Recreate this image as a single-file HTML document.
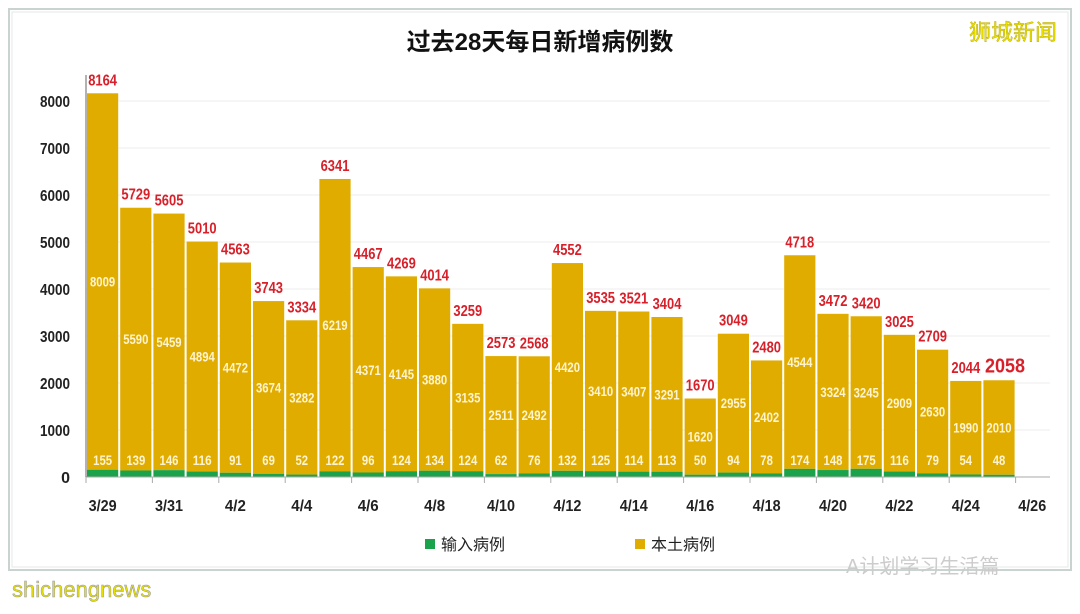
<!DOCTYPE html>
<html><head><meta charset="utf-8"><style>
body{margin:0;background:#fff;width:1080px;height:609px;overflow:hidden}
text{font-family:"Liberation Sans","Noto Sans CJK SC",sans-serif}
.cjk{font-family:"Liberation Sans","Noto Sans CJK SC",sans-serif}
</style></head><body>
<svg width="1080" height="609" xmlns="http://www.w3.org/2000/svg" id="s">
<rect x="0" y="0" width="1080" height="609" fill="#fff"/>
<rect x="9" y="9" width="1062" height="561" fill="#fff" stroke="#c9d3cf" stroke-width="2"/>
<rect x="12" y="12" width="1056" height="555" fill="none" stroke="#e4eae7" stroke-width="1"/>
<text x="540" y="50" text-anchor="middle" class="cjk" font-size="24" font-weight="bold" fill="#111">过去28天每日新增病例数</text>
<text x="1013" y="40" text-anchor="middle" class="cjk" font-size="22" fill="#e8e000" stroke="#b8a800" stroke-width="0.4">狮城新闻</text>
<g id="g"></g>
<rect x="425" y="539" width="10" height="10" fill="#1aa34a"/>
<text x="441" y="550" class="cjk" font-size="16" fill="#222">输入病例</text>
<rect x="635" y="539" width="10" height="10" fill="#e0ac00"/>
<text x="651" y="550" class="cjk" font-size="16" fill="#222">本土病例</text>
<text x="846" y="573" class="cjk" font-size="20" fill="#ccc">A计划学习生活篇</text>
<text x="12" y="597" font-size="22" fill="#e6e000" stroke="#999" stroke-width="0.5">shichengnews</text>
</svg>
<script>
var T=[8164,5729,5605,5010,4563,3743,3334,6341,4467,4269,4014,3259,2573,2568,4552,3535,3521,3404,1670,3049,2480,4718,3472,3420,3025,2709,2044,2058];
var L=[8009,5590,5459,4894,4472,3674,3282,6219,4371,4145,3880,3135,2511,2492,4420,3410,3407,3291,1620,2955,2402,4544,3324,3245,2909,2630,1990,2010];
var I=[155,139,146,116,91,69,52,122,96,124,134,124,62,76,132,125,114,113,50,94,78,174,148,175,116,79,54,48];
var dates=["3/29","3/31","4/2","4/4","4/6","4/8","4/10","4/12","4/14","4/16","4/18","4/20","4/22","4/24","4/26"];
var y0=477,k=0.047,x0=86,w=33.2,h='';
function tl(s,per){return ' textLength="'+(String(s).length*per)+'" lengthAdjust="spacingAndGlyphs" ';}
for(var v=1000;v<=8000;v+=1000){var y=y0-v*k;h+='<line x1="86" x2="1050" y1="'+y+'" y2="'+y+'" stroke="#eee"/><text x="70" y="'+(y+6)+'" text-anchor="end" font-size="16" font-weight="bold" fill="#222"'+tl(v,7.5)+'>'+v+'</text>';}
h+='<text x="70" y="'+(y0+6)+'" text-anchor="end" font-size="16" font-weight="bold" fill="#222">0</text>';
for(var i=0;i<28;i++){var x=x0+i*w+1,bw=w-2,cx=x+bw/2;var ty=y0-T[i]*k,gy=y0-I[i]*k;
h+='<rect x="'+x+'" y="'+ty+'" width="'+bw+'" height="'+(gy-ty)+'" fill="#e0ac00"/>';
h+='<rect x="'+x+'" y="'+gy+'" width="'+bw+'" height="'+(y0-gy)+'" fill="#1aa34a"/>';
var big=i==27;
h+='<text x="'+(cx+(big?6:0))+'" y="'+(ty-8)+'" text-anchor="middle" font-size="'+(big?20:16)+'" font-weight="bold" fill="#d8202a"'+tl(T[i],big?10:7.2)+'>'+T[i]+'</text>';
h+='<text x="'+cx+'" y="'+((ty+gy)/2+5)+'" text-anchor="middle" font-size="14" font-weight="bold" fill="#fff4d0"'+tl(L[i],6.3)+'>'+L[i]+'</text>';
h+='<text x="'+cx+'" y="465" text-anchor="middle" font-size="14" font-weight="bold" fill="#fff4d0"'+tl(I[i],6.3)+'>'+I[i]+'</text>';}
h+='<line x1="86" x2="1050" y1="'+y0+'" y2="'+y0+'" stroke="#aaa"/><line x1="86" x2="86" y1="75" y2="'+y0+'" stroke="#666"/>';
for(var j=0;j<15;j++){var tx=x0+2*j*w;h+='<line x1="'+tx+'" x2="'+tx+'" y1="'+y0+'" y2="'+(y0+6)+'" stroke="#aaa"/><text x="'+(tx+16.6)+'" y="511" text-anchor="middle" font-size="16" font-weight="bold" fill="#222"'+tl(dates[j],7)+'>'+dates[j]+'</text>';}
document.getElementById('g').innerHTML=h;
</script>
</body></html>
